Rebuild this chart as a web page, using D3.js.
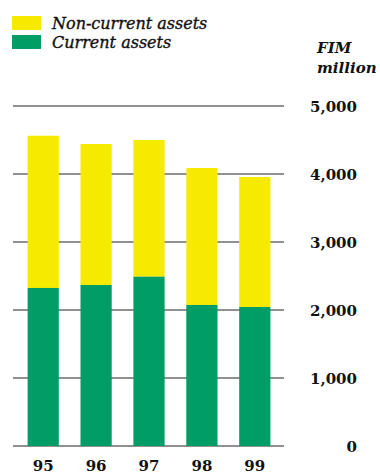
<!DOCTYPE html>
<html lang="en">
<head>
  <meta charset="UTF-8">
  <title>Assets</title>
  <script src="https://d3js.org/d3.v7.min.js"></script>
  <style>
    body { margin: 0; background: #fff; }
    svg { display: block; }
    .tick-label { font-family: "DejaVu Serif", serif; font-weight: bold; font-size: 15px; fill: #111; }
    .legend-label { font-family: "DejaVu Serif", serif; font-style: italic; font-size: 16px; fill: #111; stroke: #111; stroke-width: 0.35; }
    .unit { font-family: "DejaVu Serif", serif; font-style: italic; font-weight: bold; font-size: 15px; fill: #111; }
  </style>
</head>
<body>
  <svg width="380" height="472"></svg>

  <script>
    const years = ["95", "96", "97", "98", "99"];
    const currentAssets = [2324, 2368, 2490, 2074, 2044];
    const nonCurrentAssets = [2239, 2073, 2010, 2014, 1912];
    const yTicks = [0, 1000, 2000, 3000, 4000, 5000];

    const green = "#009e66";
    const yellow = "#f6eb00";

    const svg = d3.select("svg");

    const xScale = d3.scaleBand().domain(years).range([17, 281]).paddingInner(0.41).paddingOuter(0.2);
    const yScale = d3.scaleLinear().domain([0, 5000]).range([446, 106]);

    // gridlines behind bars
    svg.append("g").selectAll("line")
      .data(yTicks)
      .join("line")
      .attr("x1", 13)
      .attr("x2", 284)
      .attr("y1", d => yScale(d))
      .attr("y2", d => yScale(d))
      .attr("stroke", "#222")
      .attr("stroke-width", 1.2);

    svg.append("g").selectAll("text")
      .data(yTicks)
      .join("text")
      .attr("class", "tick-label")
      .attr("x", 357)
      .attr("y", d => yScale(d) + 6)
      .attr("text-anchor", "end")
      .text(d => d3.format(",")(d));

    const rows = years.map((y, i) => ({ year: y, cur: currentAssets[i], non: nonCurrentAssets[i] }));

    svg.append("g").selectAll("rect")
      .data(rows)
      .join("rect")
      .attr("x", d => xScale(d.year))
      .attr("width", xScale.bandwidth())
      .attr("y", d => yScale(d.cur + d.non))
      .attr("height", d => yScale(d.cur) - yScale(d.cur + d.non))
      .attr("fill", yellow);

    svg.append("g").selectAll("rect")
      .data(rows)
      .join("rect")
      .attr("x", d => xScale(d.year))
      .attr("width", xScale.bandwidth())
      .attr("y", d => yScale(d.cur))
      .attr("height", d => yScale(0) - yScale(d.cur))
      .attr("fill", green);

    // year labels (slightly clipped at the bottom, as in the original)
    svg.append("g").selectAll("text")
      .data(years)
      .join("text")
      .attr("class", "tick-label")
      .attr("x", d => xScale(d) + xScale.bandwidth() / 2)
      .attr("y", 471)
      .attr("text-anchor", "middle")
      .text(d => d);

    // legend
    const legend = [
      { label: "Non-current assets", color: yellow, y: 16 },
      { label: "Current assets", color: green, y: 35 }
    ];
    const lg = svg.append("g").selectAll("g").data(legend).join("g");
    lg.append("rect")
      .attr("x", 12).attr("y", d => d.y)
      .attr("width", 29).attr("height", 14)
      .attr("fill", d => d.color);
    lg.append("text")
      .attr("class", "legend-label")
      .attr("x", 52).attr("y", d => d.y + 12.5)
      .text(d => d.label);

    svg.append("text").attr("class", "unit").attr("x", 317).attr("y", 53).text("FIM");
    svg.append("text").attr("class", "unit").attr("x", 317).attr("y", 73).text("million");
  </script>
</body>
</html>
